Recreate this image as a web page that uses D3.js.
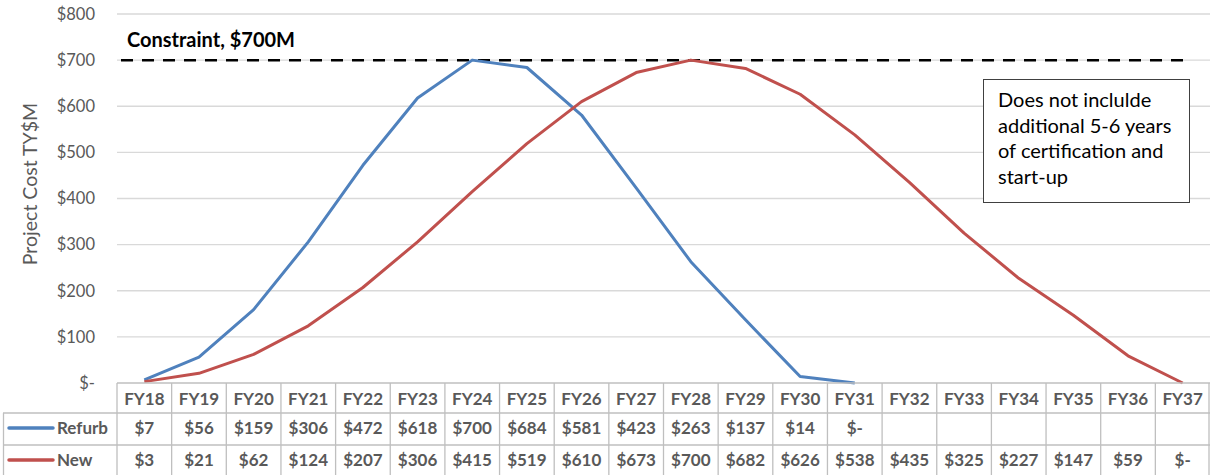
<!DOCTYPE html>
<html>
<head>
<meta charset="utf-8">
<script src="https://cdn.jsdelivr.net/npm/d3@7"></script>
<style>
  body { margin: 0; background: #fff; }
  svg { display: block; font-family: Lato, "Open Sans", sans-serif; }
</style>
</head>
<body>
<div id="chart"></div>
<script>
const years = ['FY18', 'FY19', 'FY20', 'FY21', 'FY22', 'FY23', 'FY24', 'FY25', 'FY26', 'FY27',
  'FY28', 'FY29', 'FY30', 'FY31', 'FY32', 'FY33', 'FY34', 'FY35', 'FY36', 'FY37']
const refurb = [7, 56, 159, 306, 472, 618, 700, 684, 581, 423, 263, 137, 14, 0, null, null, null, null, null, null]
const newBuild = [3, 21, 62, 124, 207, 306, 415, 519, 610, 673, 700, 682, 626, 538, 435, 325, 227, 147, 59, 0]
const yTicks = [0, 100, 200, 300, 400, 500, 600, 700, 800]
const constraint = 700
const noteLines = ['Does not inclulde', 'additional 5-6 years', 'of certification and', 'start-up']

const series = [
  { name: 'Refurb', values: refurb, color: '#4f81bd' },
  { name: 'New', values: newBuild, color: '#c0504d' }
]

const width = 1210
const height = 475
const plotLeft = 117
const plotRight = 1210
const plotTop = 14
const plotBottom = 383
const rowEdges = [383, 413, 445, 477]
const gray = '#595959'

const svg = d3.select('#chart')
  .append('svg')
  .attr('width', width)
  .attr('height', height)

const x = d3.scaleBand().domain(years).range([plotLeft, plotRight])
const y = d3.scaleLinear().domain([0, 800]).range([plotBottom, plotTop])

const money = v => v === 0 ? '$-' : '$' + v

// gridlines
svg.append('g')
  .selectAll('line')
  .data(yTicks.filter(d => d > 0))
  .join('line')
  .attr('x1', plotLeft)
  .attr('x2', plotRight)
  .attr('y1', d => y(d))
  .attr('y2', d => y(d))
  .attr('stroke', '#d9d9d9')
  .attr('stroke-width', 1.3)

// y axis labels
svg.append('g')
  .selectAll('text')
  .data(yTicks)
  .join('text')
  .attr('x', 95)
  .attr('y', d => y(d))
  .attr('dy', '0.35em')
  .attr('text-anchor', 'end')
  .attr('fill', gray)
  .style('font-size', '16.5px')
  .text(money)

svg.append('text')
  .attr('transform', `translate(37, 184) rotate(-90)`)
  .attr('text-anchor', 'middle')
  .attr('fill', gray)
  .style('font-size', '19.5px')
  .text('Project Cost TY$M')

// constraint line
svg.append('line')
  .attr('x1', 121)
  .attr('x2', 1183)
  .attr('y1', y(constraint))
  .attr('y2', y(constraint))
  .attr('stroke', '#000')
  .attr('stroke-width', 2.5)
  .attr('stroke-dasharray', '12,9')

svg.append('text')
  .attr('x', 127)
  .attr('y', 47)
  .attr('font-weight', 'bold')
  .attr('fill', '#000')
  .style('font-size', '20px')
  .text('Constraint, $700M')

// lines
const line = d3.line()
  .defined(d => d.v !== null)
  .x(d => x(d.year) + x.bandwidth() / 2)
  .y(d => y(d.v))

svg.append('g')
  .selectAll('path')
  .data(series)
  .join('path')
  .attr('fill', 'none')
  .attr('stroke', d => d.color)
  .attr('stroke-width', 3)
  .attr('stroke-linejoin', 'round')
  .attr('d', s => line(s.values.map((v, i) => ({ year: years[i], v }))))

// note box
const note = svg.append('g')
note.append('rect')
  .attr('x', 983.5)
  .attr('y', 79.5)
  .attr('width', 206)
  .attr('height', 123)
  .attr('fill', '#fff')
  .attr('stroke', '#404040')
  .attr('stroke-width', 1)
note.selectAll('text')
  .data(noteLines)
  .join('text')
  .attr('x', 998)
  .attr('y', (d, i) => 107 + i * 25.5)
  .attr('fill', '#000')
  .style('font-size', '20px')
  .text(d => d)

// data table
const table = svg.append('g')
const gridColor = '#bfbfbf'

// horizontal rules
table.append('line')
  .attr('x1', plotLeft).attr('x2', plotRight)
  .attr('y1', rowEdges[0]).attr('y2', rowEdges[0])
  .attr('stroke', gridColor).attr('stroke-width', 1.3)
table.selectAll('line.h')
  .data(rowEdges.slice(1))
  .join('line')
  .attr('class', 'h')
  .attr('x1', 3).attr('x2', plotRight)
  .attr('y1', d => d).attr('y2', d => d)
  .attr('stroke', gridColor).attr('stroke-width', 1.3)

// vertical rules
table.selectAll('line.v')
  .data(years.map(d => x(d)).concat([plotRight - 1]))
  .join('line')
  .attr('class', 'v')
  .attr('x1', d => d).attr('x2', d => d)
  .attr('y1', rowEdges[0]).attr('y2', height)
  .attr('stroke', gridColor).attr('stroke-width', 1.3)
table.append('line')
  .attr('x1', 3.5).attr('x2', 3.5)
  .attr('y1', rowEdges[1]).attr('y2', height)
  .attr('stroke', gridColor).attr('stroke-width', 1.3)

const cellStyle = sel => sel
  .attr('text-anchor', 'middle')
  .attr('dy', '0.35em')
  .attr('font-weight', 'bold')
  .attr('fill', gray)
  .style('font-size', '17px')

table.selectAll('text.year')
  .data(years)
  .join('text')
  .attr('class', 'year')
  .attr('x', d => x(d) + x.bandwidth() / 2)
  .attr('y', (rowEdges[0] + rowEdges[1]) / 2 + 1)
  .call(cellStyle)
  .text(d => d)

series.forEach((s, k) => {
  const cy = (rowEdges[k + 1] + rowEdges[k + 2]) / 2 - 1
  table.append('line')
    .attr('x1', 9).attr('x2', 53)
    .attr('y1', cy).attr('y2', cy)
    .attr('stroke', s.color)
    .attr('stroke-width', 3.5)
    .attr('stroke-linecap', 'round')
  table.append('text')
    .attr('x', 57)
    .attr('y', cy)
    .attr('dy', '0.35em')
    .attr('font-weight', 'bold')
    .attr('fill', gray)
    .style('font-size', '17px')
    .text(s.name)
  table.selectAll(null)
    .data(s.values.map((v, i) => ({ year: years[i], v })).filter(d => d.v !== null))
    .join('text')
    .attr('x', d => x(d.year) + x.bandwidth() / 2)
    .attr('y', cy)
    .call(cellStyle)
    .text(d => money(d.v))
})
</script>
</body>
</html>
